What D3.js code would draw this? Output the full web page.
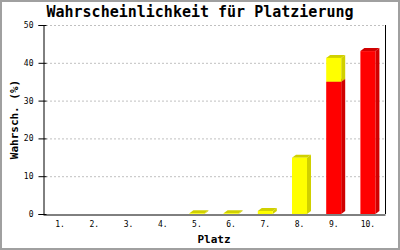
<!DOCTYPE html>
<html>
<head>
<meta charset="utf-8">
<script src="https://cdn.jsdelivr.net/npm/d3@7"></script>
<style>
  body { margin: 0; background: #fff; }
  text { font-family: "DejaVu Sans Mono", "Liberation Mono", monospace; }
</style>
</head>
<body>
<div id="chart"></div>
<script>
// data
var plaetze = ["1.", "2.", "3.", "4.", "5.", "6.", "7.", "8.", "9.", "10."];
var rot = [0, 0, 0, 0, 0, 0, 0, 0, 35.0, 43.1];
var gelb = [0, 0, 0, 0, 0.2, 0.2, 0.8, 14.9, 6.3, 0];
var yTicks = [0, 10, 20, 30, 40, 50];

var width = 400, height = 250;
var margin = {left: 43, right: 15, top: 25, bottom: 36};
var depthX = 4, depthY = 3;

var svg = d3.select("#chart")
    .append("svg")
    .attr("width", width)
    .attr("height", height);

// frame
svg.append("rect")
    .attr("x", 1).attr("y", 1)
    .attr("width", width - 2).attr("height", height - 2)
    .attr("fill", "white")
    .attr("stroke", "#a0a0a0")
    .attr("stroke-width", 2);

var x = d3.scaleBand()
    .domain(plaetze)
    .range([margin.left, width - margin.right]);

var y = d3.scaleLinear()
    .domain([0, 50])
    .range([height - margin.bottom, margin.top]);

var barW = 15;

// grid
svg.append("g")
    .selectAll("line")
    .data(yTicks.filter(d => d > 0))
    .enter().append("line")
    .attr("x1", margin.left + 3)
    .attr("x2", width - margin.right - 1)
    .attr("y1", d => y(d) + 0.5)
    .attr("y2", d => y(d) + 0.5)
    .attr("stroke", "#c0c0c0")
    .attr("stroke-dasharray", "2,2");

// bars, bottom segment first
var segments = [];
plaetze.forEach((p, i) => {
    var base = 0;
    [[rot[i], "#ff0000", "#d00000"], [gelb[i], "#ffff00", "#d0d000"]].forEach(s => {
        if (s[0] > 0) {
            segments.push({p: p, y0: base, y1: base + s[0], front: s[1], dark: s[2]});
        }
        base += s[0];
    });
});

var bars = svg.append("g");
segments.forEach(s => {
    var x0 = x(s.p) + (x.bandwidth() - barW) / 2;
    var x1 = x0 + barW;
    var yt = y(s.y1), yb = y(s.y0);
    var g = bars.append("g");
    g.append("polygon")
        .attr("points", [[x1, yb], [x1 + depthX, yb - depthY], [x1 + depthX, yt - depthY], [x1, yt]].join(" "))
        .attr("fill", s.dark);
    g.append("polygon")
        .attr("points", [[x0, yt], [x1, yt], [x1 + depthX, yt - depthY], [x0 + depthX, yt - depthY]].join(" "))
        .attr("fill", s.dark);
    g.append("rect")
        .attr("x", x0)
        .attr("y", yt)
        .attr("width", barW)
        .attr("height", yb - yt)
        .attr("fill", s.front);
});

// axes
var yAxis = d3.axisLeft(y).tickValues(yTicks).tickSize(5).tickPadding(5);
var gy = svg.append("g")
    .attr("transform", "translate(" + (margin.left + 0.5) + ",0)")
    .call(yAxis);
gy.select(".domain").attr("stroke", "black");
gy.selectAll(".tick line").attr("x2", -5).attr("x1", 3).attr("stroke", "black");
gy.selectAll(".tick text")
    .attr("font-family", "DejaVu Sans Mono")
    .attr("font-size", "8px")
    .attr("fill", "black");

var xAxis = d3.axisBottom(x).tickSize(0).tickPadding(7);
var gx = svg.append("g")
    .attr("transform", "translate(0," + (y(0) + 0.5) + ")")
    .call(xAxis);
gx.select(".domain").attr("stroke", "black");
gx.selectAll(".tick text")
    .attr("font-family", "DejaVu Sans Mono")
    .attr("font-size", "8px")
    .attr("fill", "black");

// right frame line
svg.append("line")
    .attr("x1", width - margin.right + 0.5)
    .attr("x2", width - margin.right + 0.5)
    .attr("y1", y(50))
    .attr("y2", y(0))
    .attr("stroke", "black");

// titles
svg.append("text")
    .attr("x", 200)
    .attr("y", 17)
    .attr("text-anchor", "middle")
    .attr("font-size", "15px")
    .attr("font-weight", "bold")
    .text("Wahrscheinlichkeit für Platzierung");

svg.append("text")
    .attr("x", (margin.left + width - margin.right) / 2)
    .attr("y", 243)
    .attr("text-anchor", "middle")
    .attr("font-size", "11px")
    .attr("font-weight", "bold")
    .text("Platz");

svg.append("text")
    .attr("transform", "translate(17.5," + (y(25)) + ") rotate(-90)")
    .attr("text-anchor", "middle")
    .attr("font-size", "11px")
    .attr("font-weight", "bold")
    .text("Wahrsch. (%)");
</script>
</body>
</html>
